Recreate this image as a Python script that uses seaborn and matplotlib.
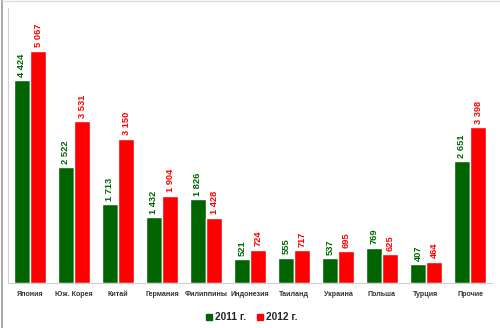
import matplotlib
matplotlib.use("Agg")
import matplotlib.pyplot as plt
import seaborn as sns
import pandas as pd
from matplotlib.lines import Line2D

countries = ["Япония", "Юж. Корея", "Китай", "Германия", "Филиппины", "Индонезия",
             "Таиланд", "Украина", "Польша", "Турция", "Прочие"]
values_2011 = [4424, 2522, 1713, 1432, 1826, 521, 555, 537, 769, 407, 2651]
values_2012 = [5067, 3531, 3150, 1904, 1428, 724, 717, 695, 625, 464, 3398]
years = ["2011 г.", "2012 г."]
colors = ["#006400", "#FF0000"]

df = pd.DataFrame({
    "country": countries * 2,
    "value": values_2011 + values_2012,
    "year": [years[0]] * len(countries) + [years[1]] * len(countries),
})

sns.set_theme(style="white")
plt.rcParams["font.family"] = ["Liberation Sans", "DejaVu Sans"]

fig = plt.figure(figsize=(5.0, 3.28), dpi=100)
ax = fig.add_axes([0.016, 0.137, 0.968, 0.839])

sns.barplot(data=df, x="country", y="value", hue="year", order=countries,
            hue_order=years, palette=colors, width=0.73, saturation=1,
            ax=ax, legend=False)

ax.set_ylim(0, 6000)
ax.set_xlim(-0.5, len(countries) - 0.5)
ax.set_xlabel("")
ax.set_ylabel("")
ax.set_yticks([])
ax.tick_params(axis="x", length=0, pad=6)
for lab in ax.get_xticklabels():
    lab.set_fontsize(5.1)
    lab.set_fontweight("bold")
    lab.set_color("#333333")

for side in ["top", "right"]:
    ax.spines[side].set_visible(False)
for side in ["left", "bottom"]:
    ax.spines[side].set_color("#d0d0d0")
    ax.spines[side].set_linewidth(0.8)

def fmt(v):
    return f"{v:,}".replace(",", " ")

for container, col in zip(ax.containers, colors):
    for bar in container:
        h = bar.get_height()
        ax.annotate(fmt(int(round(h))),
                    (bar.get_x() + bar.get_width() / 2, h),
                    xytext=(0, 2.5), textcoords="offset points",
                    rotation=90, ha="center", va="bottom",
                    fontsize=6.7, fontweight="bold", color=col)

handles = [Line2D([0], [0], marker="s", linestyle="", markersize=4.5,
                  markerfacecolor=c, markeredgecolor=c) for c in colors]
fig.legend(handles, years, loc="lower center", bbox_to_anchor=(0.503, -0.01),
           ncol=2, frameon=False, handletextpad=0.2, columnspacing=1.0,
           handlelength=0.8, prop={"size": 7.3, "weight": "bold"})

# outer frame of the chart block
fig.add_artist(Line2D([0.004, 0.004], [0, 1], transform=fig.transFigure,
                      color="#999999", linewidth=1.2))
fig.add_artist(Line2D([0.004, 1], [0.998, 0.998], transform=fig.transFigure,
                      color="#dddddd", linewidth=1.0))

fig.savefig("out.png", dpi=100)
